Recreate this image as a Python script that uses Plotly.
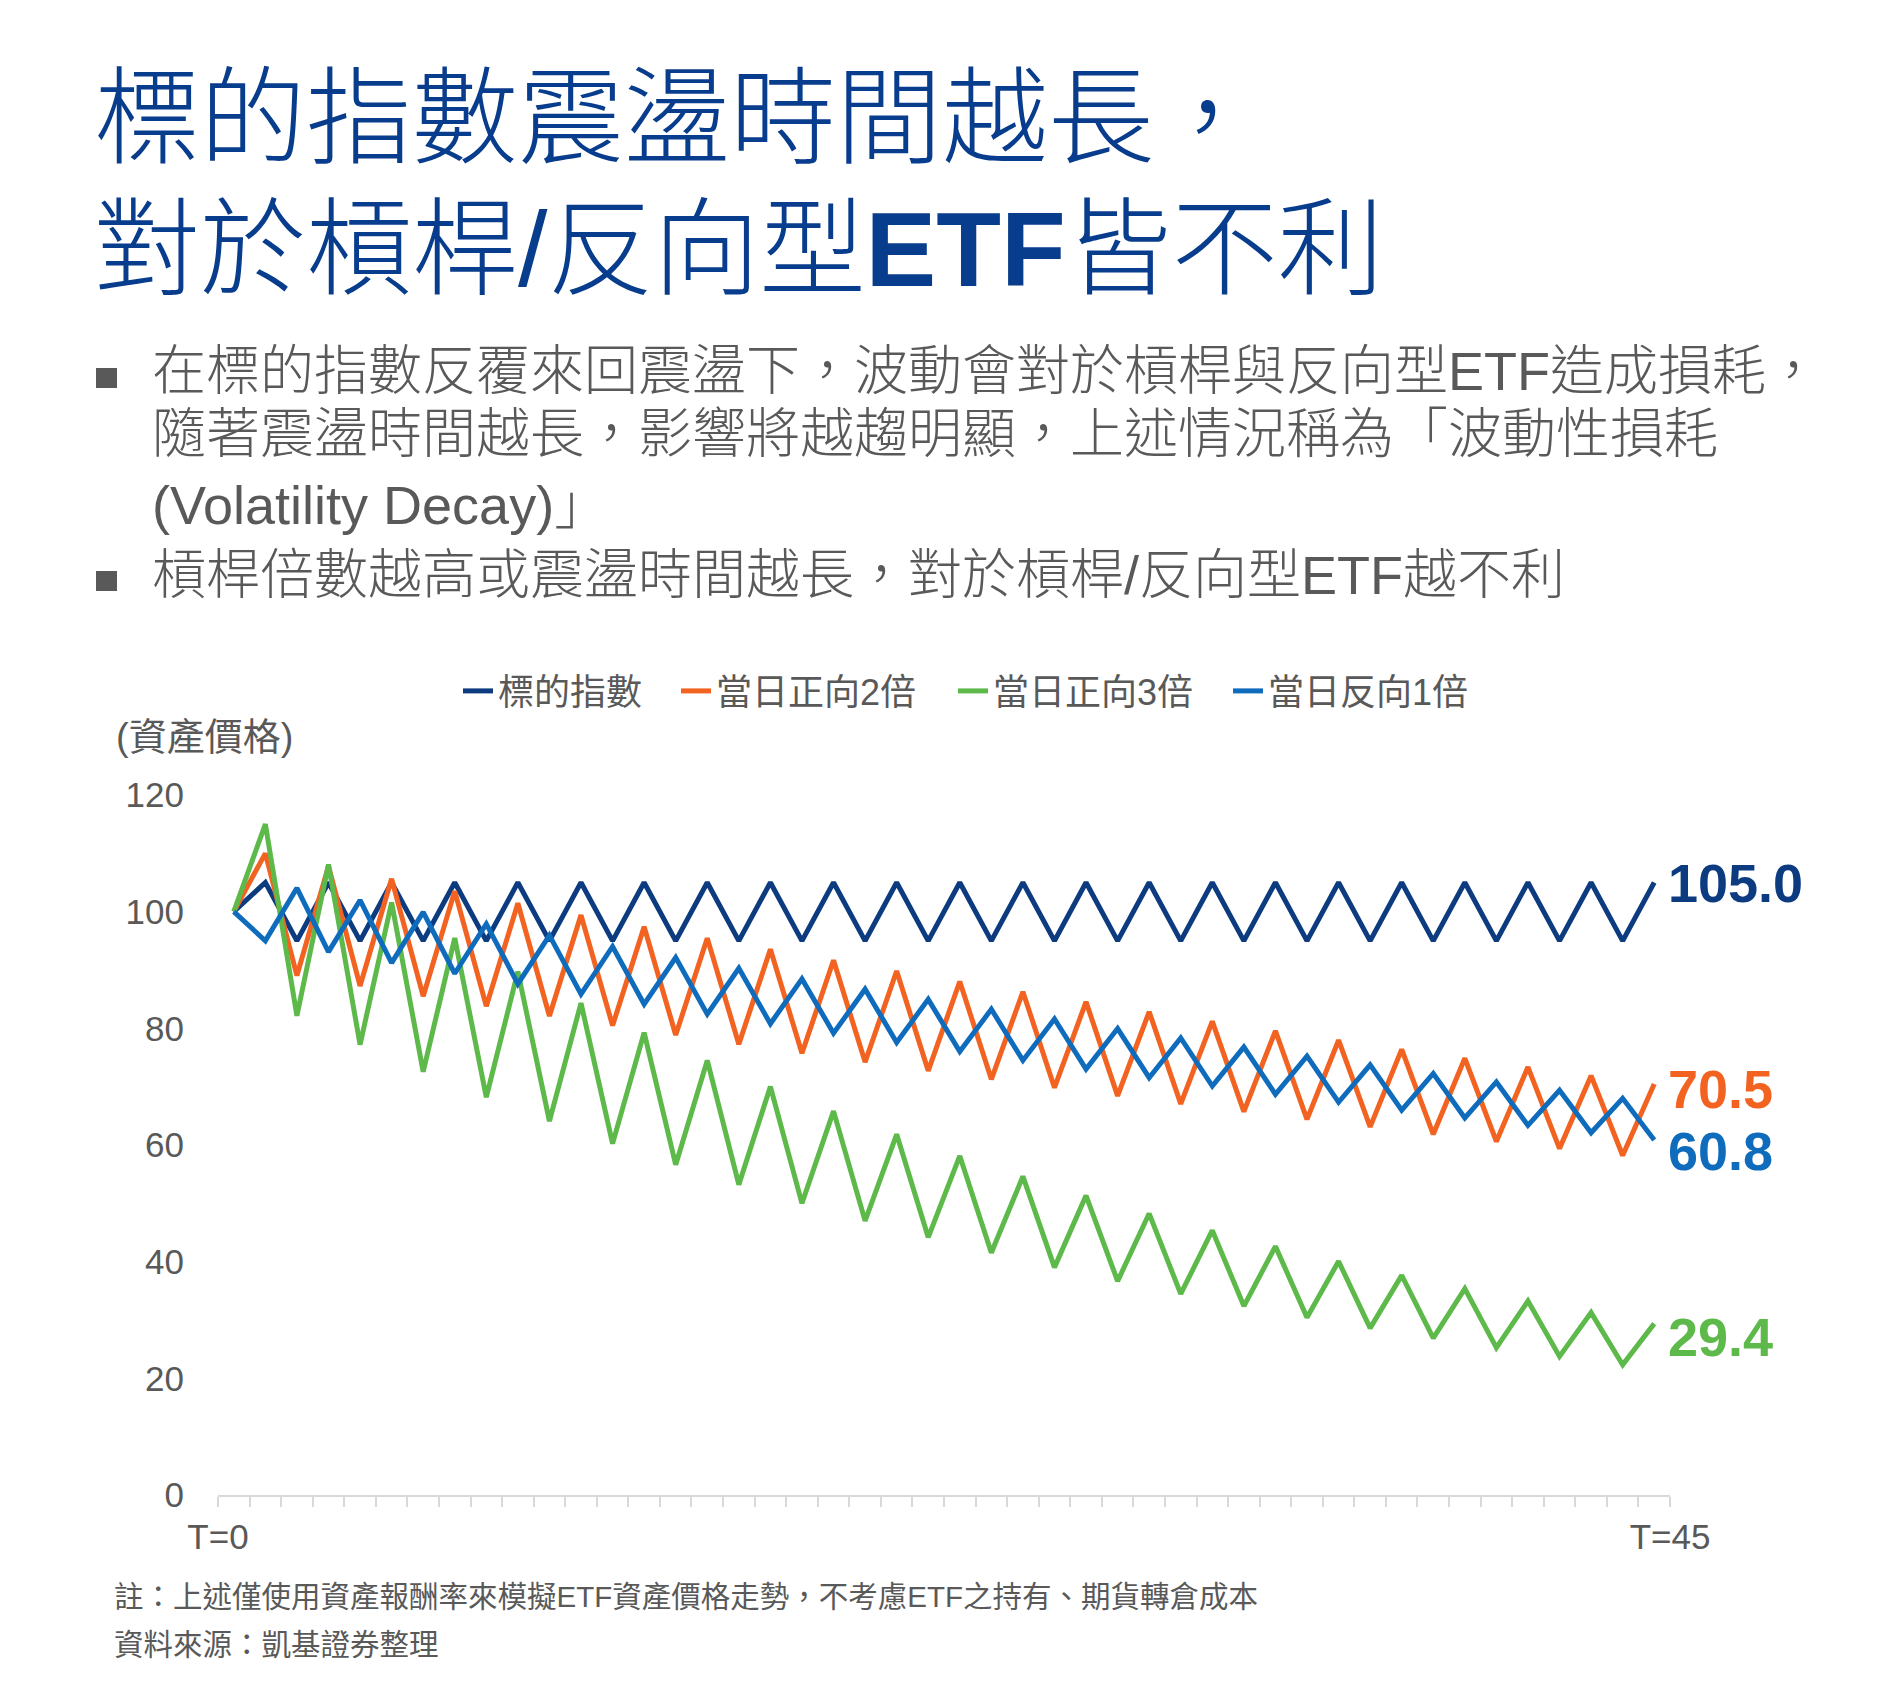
import plotly.graph_objects as go

# 0..45 trading days
days = list(range(46))
x_labels = ["T=0", "T=45"]

index_1x = [100, 105, 95, 105, 95, 105, 95, 105, 95, 105, 95, 105, 95, 105, 95, 105,
            95, 105, 95, 105, 95, 105, 95, 105, 95, 105, 95, 105, 95, 105, 95, 105,
            95, 105, 95, 105, 95, 105, 95, 105, 95, 105, 95, 105, 95, 105]
long_2x = [100, 110.00, 89.05, 107.79, 87.26, 105.63, 85.51, 103.52, 83.80, 101.44,
           82.12, 99.41, 80.47, 97.41, 78.86, 95.46, 77.28, 93.55, 75.73, 91.67,
           74.21, 89.83, 72.72, 88.03, 71.26, 86.27, 69.83, 84.54, 68.43, 82.84,
           67.06, 81.18, 65.72, 79.55, 64.40, 77.96, 63.11, 76.39, 61.84, 74.86,
           60.60, 73.36, 59.39, 71.89, 58.20, 70.45]
long_3x = [100, 115.00, 82.14, 108.08, 77.20, 101.58, 72.56, 95.47, 68.19, 89.73,
           64.09, 84.33, 60.24, 79.26, 56.61, 74.49, 53.21, 70.01, 50.01, 65.80,
           47.00, 61.84, 44.17, 58.12, 41.52, 54.63, 39.02, 51.34, 36.67, 48.25,
           34.47, 45.35, 32.39, 42.62, 30.44, 40.06, 28.61, 37.65, 26.89, 35.38,
           25.27, 33.26, 23.75, 31.26, 22.33, 29.38]
inverse_1x = [100, 95.00, 104.05, 93.10, 101.96, 91.23, 99.92, 89.40, 97.91, 87.61,
              95.95, 85.85, 94.03, 84.13, 92.14, 82.44, 90.29, 80.79, 88.48, 79.17,
              86.71, 77.58, 84.97, 76.03, 83.27, 74.50, 81.60, 73.01, 79.96, 71.54,
              78.36, 70.11, 76.79, 68.70, 75.25, 67.33, 73.74, 65.98, 72.26, 64.65,
              70.81, 63.36, 69.39, 62.09, 68.00, 60.84]

names = ["標的指數", "當日正向2倍", "當日正向3倍", "當日反向1倍"]
series = [index_1x, long_2x, long_3x, inverse_1x]
colors = ["#0C3B80", "#F26322", "#5DB94A", "#0F6CBD"]
label_lift = [0, -5, -13, -11]
legend_left = [450, 668, 945, 1220]   # pixel x of each legend entry

NAVY = "#083C8C"
GRAY = "#595959"
FONT = "Liberation Sans, Noto Sans CJK TC, sans-serif"

# plot area in pixels: x 210..1662, y 787..1487
def px(x):
    return (x - 210) / 1452

def py(y):
    return (1487 - y) / 700

fig = go.Figure()
legend_ids = ["legend", "legend2", "legend3", "legend4"]
for name, vals, col, lid in zip(names, series, colors, legend_ids):
    fig.add_trace(go.Scatter(x=days, y=vals, mode="lines", name=name, legend=lid,
                             line=dict(color=col, width=5)))

ann = []
for vals, col, lift in zip(series, colors, label_lift):
    ann.append(dict(x=days[-1], y=vals[-1], xref="x", yref="y", text="<b>%.1f</b>" % vals[-1],
                    showarrow=False, xanchor="left", yanchor="middle", xshift=12, yshift=lift,
                    font=dict(size=54, color=col, family=FONT)))

def note(text, x, y, size, color, weight=400):
    ann.append(dict(x=px(x), y=py(y), xref="paper", yref="paper", text=text, showarrow=False,
                    xanchor="left", yanchor="middle", align="left",
                    font=dict(size=size, color=color, family=FONT, weight=weight)))

note("標的指數震盪時間越長，", 84, 110, 106, NAVY, 300)
note("對於槓桿/反向型<b>ETF</b>皆不利", 84, 241, 106, NAVY, 300)
note("在標的指數反覆來回震盪下，波動會對於槓桿與反向型ETF造成損耗，", 142, 363, 54, GRAY, 300)
note("隨著震盪時間越長，影響將越趨明顯，上述情況稱為「波動性損耗", 142, 426, 54, GRAY, 300)
note("(Volatility Decay)」", 142, 497, 54, GRAY, 300)
note("槓桿倍數越高或震盪時間越長，對於槓桿/反向型ETF越不利", 142, 567, 54, GRAY, 300)
note("(資產價格)", 106, 729, 38, GRAY)
note("註：上述僅使用資產報酬率來模擬ETF資產價格走勢，不考慮ETF之持有、期貨轉倉成本", 104, 1588, 29.5, GRAY)
note("資料來源：凱基證券整理", 104, 1636, 29.5, GRAY)

shapes = []
for yc in [370, 573]:
    shapes.append(dict(type="rect", xref="paper", yref="paper", x0=px(88), x1=px(109),
                       y0=py(yc + 10), y1=py(yc - 10), fillcolor=GRAY, line=dict(width=0)))

tick_pos = [d - 0.5 for d in days] + [days[-1] + 0.5]
tick_txt = [""] * len(tick_pos)
tick_txt[0] = x_labels[0]
tick_txt[-1] = x_labels[1]

legends = {}
for lid, left in zip(legend_ids, legend_left):
    legends[lid] = dict(orientation="h", x=px(left), y=py(683), xanchor="left", yanchor="middle",
                        font=dict(size=36, color=GRAY, family=FONT), bgcolor="rgba(0,0,0,0)")

fig.update_layout(
    width=1890, height=1701,
    margin=dict(l=210, r=228, t=787, b=214),
    paper_bgcolor="white", plot_bgcolor="white",
    font=dict(family=FONT, color=GRAY),
    showlegend=True,
    annotations=ann,
    shapes=shapes,
    xaxis=dict(range=[-0.5, 45.5], tickmode="array", tickvals=tick_pos, ticktext=tick_txt,
               ticks="outside", ticklen=10, tickwidth=2, tickcolor="#D9D9D9",
               showline=True, linecolor="#D9D9D9", linewidth=2, showgrid=False, zeroline=False,
               tickfont=dict(size=35, color=GRAY, family=FONT)),
    yaxis=dict(range=[0, 120], tickmode="array", tickvals=[0, 20, 40, 60, 80, 100, 120],
               showgrid=False, zeroline=False, showline=False, ticks="",
               ticklabelstandoff=33, tickfont=dict(size=35, color=GRAY, family=FONT)),
    **legends,
)

fig.write_html("out.html")
